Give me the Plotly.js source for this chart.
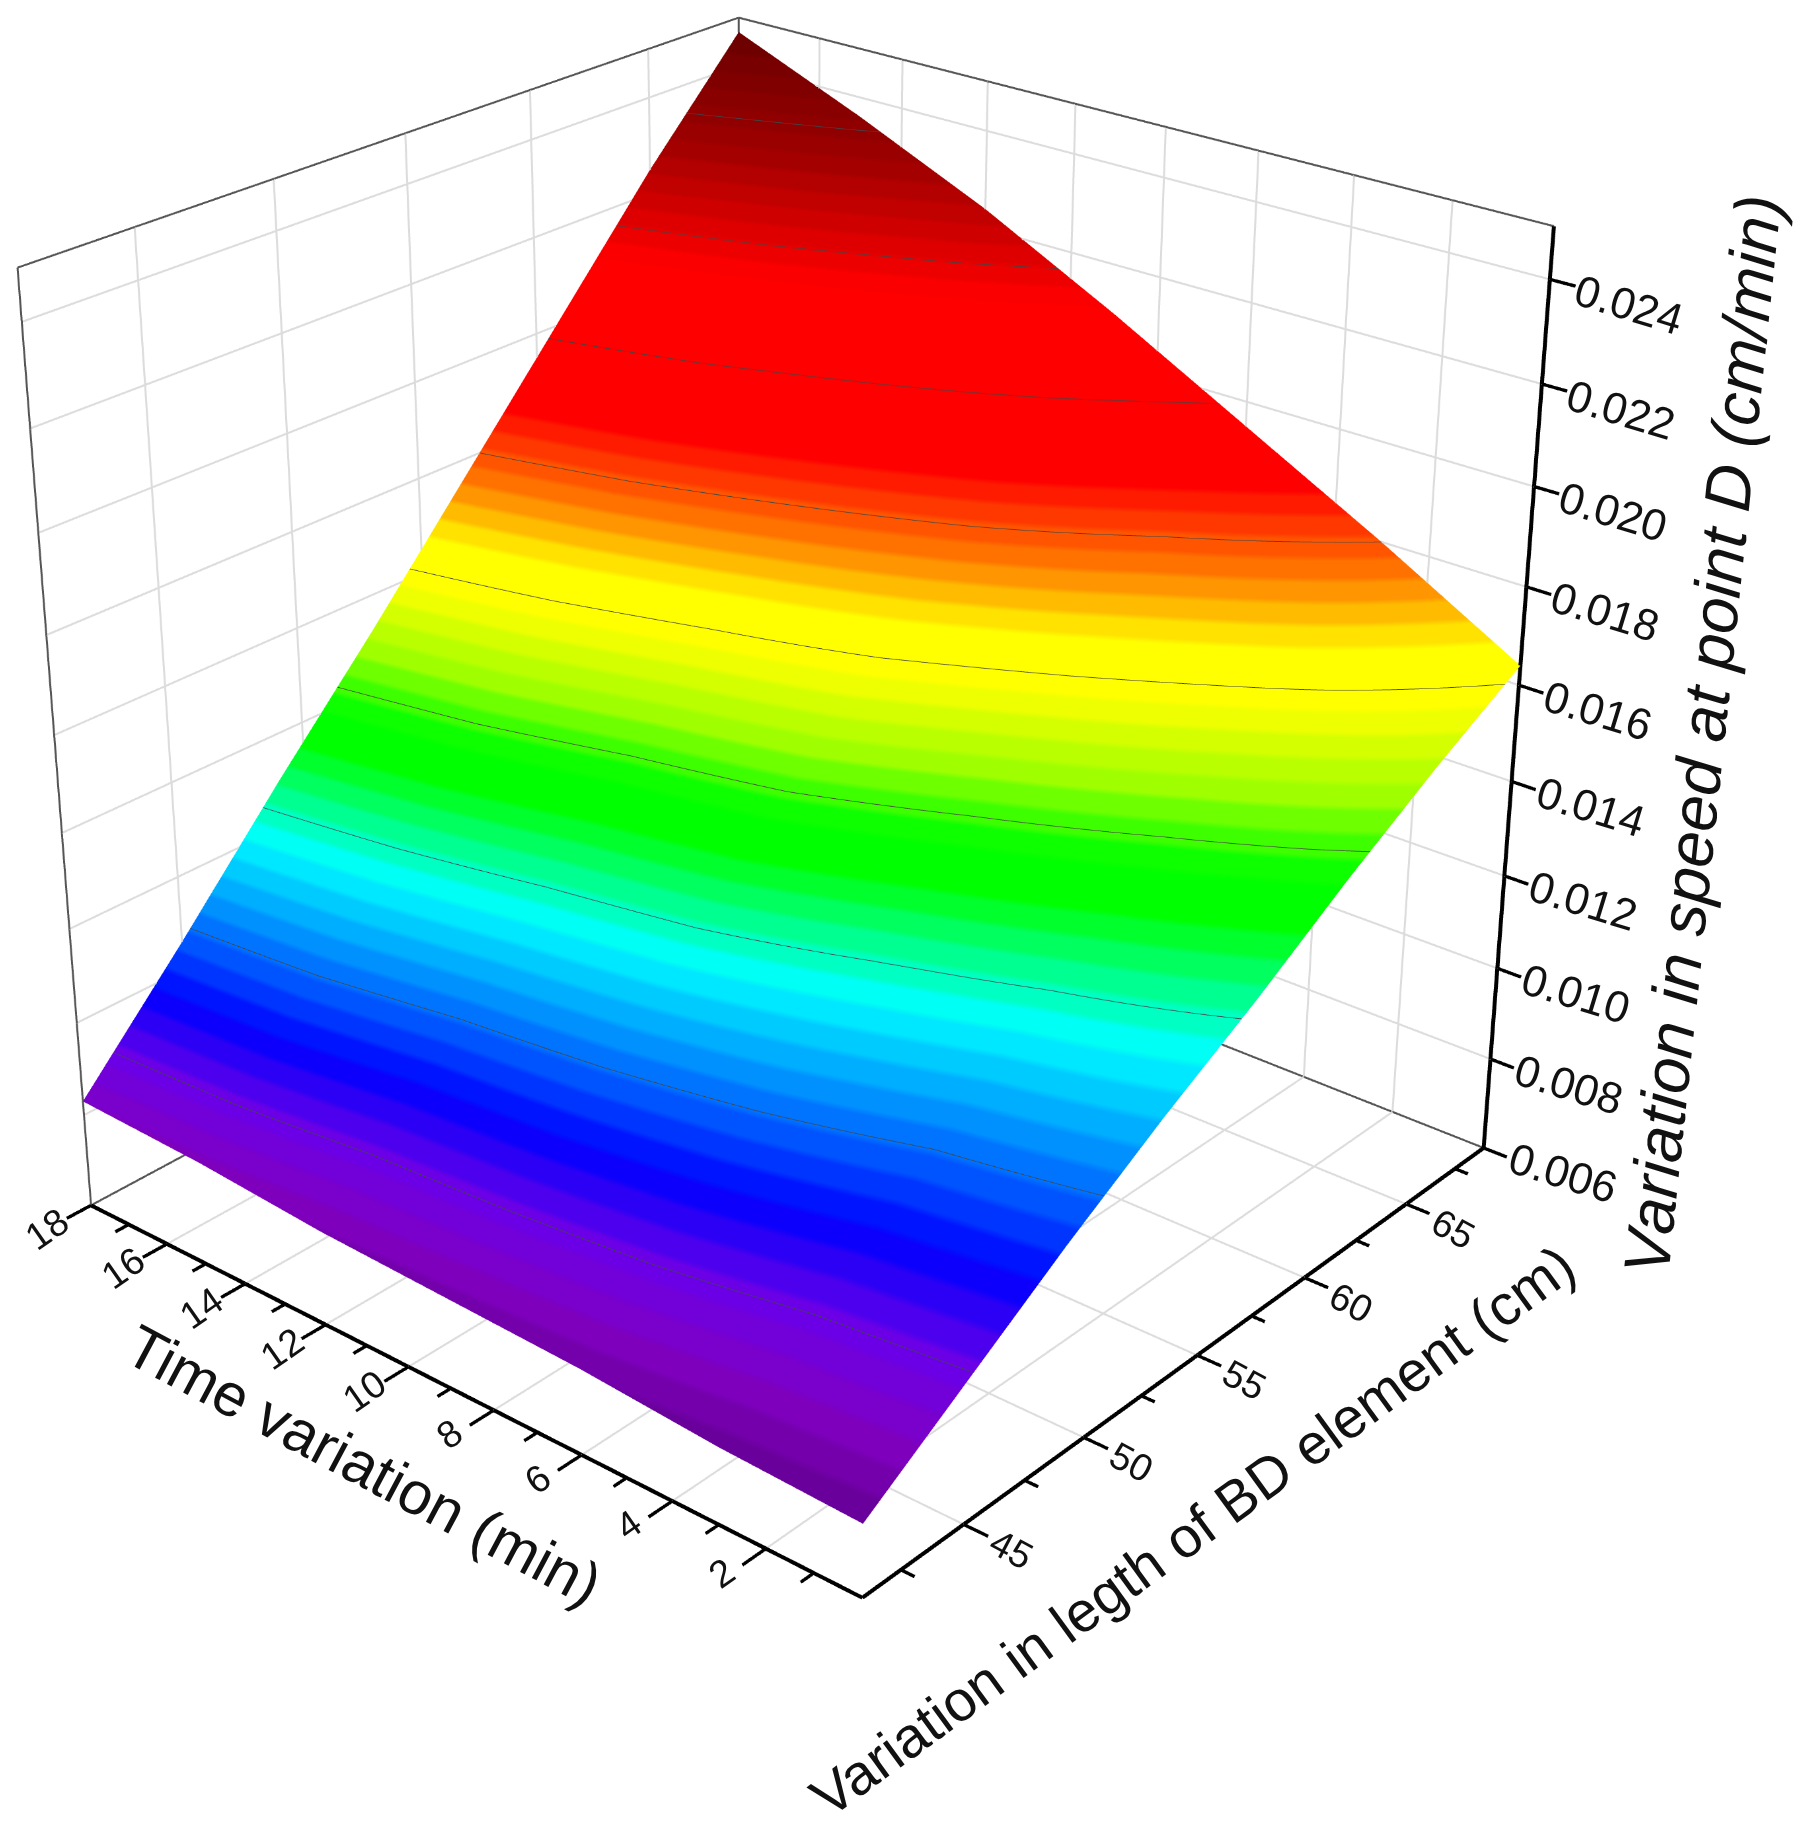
<!DOCTYPE html>
<html>
<head>
<meta charset="utf-8">
<script src="https://cdn.plot.ly/plotly-3.0.1.min.js"></script>
<style>html,body{margin:0;padding:0;background:#fff;overflow:hidden}
#marco{position:absolute;left:0;top:0;width:1803px;height:1822px;overflow:hidden}
#grafico{position:absolute}</style>
</head>
<body>
<div id="marco"><div id="grafico"></div></div>
<script>
// valores
const tiempo = [0, 3, 6, 9, 12, 15, 18];
const longitud = [41, 45, 49, 53, 57, 61, 65, 69];
const vel = [
  [.0075,.0089,.0103,.0116,.0128,.0141,.0153,.0164],
  [.0076,.0091,.0106,.0121,.0136,.0151,.0166,.0180],
  [.0078,.0095,.0112,.0128,.0145,.0162,.0178,.0195],
  [.0079,.0098,.0117,.0136,.0155,.0173,.0192,.0210],
  [.0080,.0100,.0121,.0141,.0162,.0183,.0204,.0224],
  [.0082,.0104,.0126,.0148,.0170,.0193,.0215,.0236],
  [.0083,.0106,.0130,.0153,.0177,.0201,.0225,.0247]
];
const ticksT = [2,4,6,8,10,12,14,16,18];
const menoresT = [1,3,5,7,9,11,13,15,17];
const ticksL = [45,50,55,60,65];
const menoresL = [42.5,47.5,52.5,57.5,62.5,67.5];
const ticksZ = [.006,.008,.010,.012,.014,.016,.018,.020,.022,.024];

// colores de la escala por valor de z
const anclasZ = [.0072,.0076,.0082,.0090,.0099,.0110,.0122,.0129,.0136,.0141,.0150,.0160,.0167,.0176,.0188,.0212,.0230,.0247];
const anclasCol = ["#500070","#6a009a","#8000c0","#6a00e8","#0000ff","#0080ff","#00ffff","#00ff80","#00ff00","#00ff00","#a0ff00","#ffff00","#ffff00","#ff8000","#ff0000","#ff0000","#a00000","#6b0000"];
const cMin = .0072, cMax = .0247, nBandas = 64;

const tMin = 0, tMax = 18, lMin = 41, lMax = 69, zMin = .006, zMax = .025;

// el lienzo es mas grande que la ventana para bajar la perspectiva
const ANCHO = 3786, ALTO = 3826, despX = -1098, despY = -1169;
const g = document.getElementById("grafico");
g.style.left = despX+"px"; g.style.top = despY+"px"; g.style.width = ANCHO+"px"; g.style.height = ALTO+"px";

function hexARgb(h){ return [1,3,5].map(i => parseInt(h.substr(i,2),16)); }
function colorEn(v){
  let i = 0;
  while (i < anclasZ.length-2 && v > anclasZ[i+1]) i++;
  const f = Math.min(1,Math.max(0,(v-anclasZ[i])/(anclasZ[i+1]-anclasZ[i])));
  const a = hexARgb(anclasCol[i]), b = hexARgb(anclasCol[i+1]);
  return "rgb("+a.map((c,k)=>Math.round(c+(b[k]-c)*f)).join(",")+")";
}
const escala = [];
for (let i=0;i<nBandas;i++){
  const c = colorEn(cMin+(cMax-cMin)*(i+.5)/nBandas);
  escala.push([i/nBandas,c]); escala.push([(i+1)/nBandas,c]);
}

// segmentos de lineas en coordenadas de datos
function segs(lista){
  const x=[],y=[],z=[];
  lista.forEach(s=>{ x.push(s[0][0],s[1][0],null); y.push(s[0][1],s[1][1],null); z.push(s[0][2],s[1][2],null); });
  return {x,y,z};
}
function linea(lista,color,ancho){
  return Object.assign({type:"scatter3d",mode:"lines",hoverinfo:"skip",showlegend:false,line:{color:color,width:ancho}},segs(lista));
}

const grid = [];
ticksT.forEach(t=>{ grid.push([[lMin,t,zMin],[lMax,t,zMin]]); grid.push([[lMax,t,zMin],[lMax,t,zMax]]); });
ticksL.forEach(l=>{ grid.push([[l,tMin,zMin],[l,tMax,zMin]]); grid.push([[l,tMax,zMin],[l,tMax,zMax]]); });
ticksZ.forEach(v=>{ grid.push([[lMin,tMax,v],[lMax,tMax,v]]); grid.push([[lMax,tMin,v],[lMax,tMax,v]]); });

const marco = [
  [[lMin,tMax,zMin],[lMin,tMax,zMax]], [[lMin,tMax,zMax],[lMax,tMax,zMax]],
  [[lMax,tMax,zMax],[lMax,tMin,zMax]], [[lMax,tMax,zMin],[lMax,tMax,zMax]],
  [[lMin,tMax,zMin],[lMax,tMax,zMin]], [[lMax,tMax,zMin],[lMax,tMin,zMin]]
];
const ejes = [
  [[lMin,tMin,zMin],[lMin,tMax,zMin]], [[lMin,tMin,zMin],[lMax,tMin,zMin]], [[lMax,tMin,zMin],[lMax,tMin,zMax]]
];
const marcas = [];
ticksT.forEach(t=>marcas.push([[lMin,t,zMin],[lMin-.9,t,zMin]]));
menoresT.forEach(t=>marcas.push([[lMin,t,zMin],[lMin-.5,t,zMin]]));
ticksL.forEach(l=>marcas.push([[l,tMin,zMin],[l,tMin-.5,zMin]]));
menoresL.forEach(l=>marcas.push([[l,tMin,zMin],[l,tMin-.28,zMin]]));
ticksZ.forEach(v=>marcas.push([[lMax,tMin,v],[lMax,tMin-.5,v]]));

const fuente = "Liberation Sans";
const notas = [];
const centrado = {showarrow:false,xanchor:"center",yanchor:"middle"};
ticksT.forEach(t=>notas.push(Object.assign({x:lMin,y:t,z:zMin,text:String(t),textangle:-35,xshift:-44,yshift:-24,font:{family:fuente,size:38,color:"#111"}},centrado)));
ticksL.forEach(l=>notas.push(Object.assign({x:l,y:tMin,z:zMin,text:String(l),textangle:28,xshift:47,yshift:-25,font:{family:fuente,size:38,color:"#111"}},centrado)));
ticksZ.forEach(v=>notas.push(Object.assign({x:lMax,y:tMin,z:v,text:v.toFixed(3),textangle:17,xshift:79,yshift:-25,font:{family:fuente,size:44,color:"#111"}},centrado)));

const sinEje = r => ({visible:false,range:r,showspikes:false});
const papelX = px => (px-despX)/ANCHO;
const papelY = py => 1-(py-despY)/ALTO;

Plotly.newPlot("grafico", [
  {
    type:"surface", x:longitud, y:tiempo, z:vel, showscale:false,
    colorscale:escala, cmin:cMin, cmax:cMax, hoverinfo:"skip",
    contours:{z:{show:true,start:.009,end:.0235,size:.0018,color:"#444",width:4}},
    lighting:{ambient:1,diffuse:0,specular:0,roughness:1,fresnel:0}
  },
  linea(grid,"#dcdcdc",3),
  linea(marco,"#555",3),
  linea(ejes,"#000",6),
  linea(marcas,"#000",5)
],{
  width:ANCHO,height:ALTO,margin:{l:0,r:0,t:0,b:0},paper_bgcolor:"#fff",showlegend:false,
  scene:{
    domain:{x:[0,1],y:[0,1]},
    camera:{projection:{type:"perspective"},eye:{x:-2.99,y:-2.54,z:1.92},center:{x:0,y:0,z:0},up:{x:0,y:0,z:1}},
    aspectmode:"manual",aspectratio:{x:1.02,y:1.025,z:.99},
    xaxis:sinEje([40,lMax+.1]), yaxis:sinEje([-.6,tMax+.1]), zaxis:sinEje([zMin-.0001,zMax+.0001]),
    annotations:notas
  },
  annotations:[
    Object.assign({xref:"paper",yref:"paper",x:papelX(364),y:papelY(1465),text:"Time variation (min)",textangle:28,font:{family:fuente,size:60,color:"#111"}},centrado),
    Object.assign({xref:"paper",yref:"paper",x:papelX(1192),y:papelY(1531),text:"Variation in legth of BD element (cm)",textangle:-36,font:{family:fuente,size:57,color:"#111"}},centrado),
    Object.assign({xref:"paper",yref:"paper",x:papelX(1702),y:papelY(735),text:"Variation in speed at point D (cm/min)",textangle:-84,font:{family:fuente,size:65,style:"italic",color:"#111"}},centrado)
  ]
},{displayModeBar:false});
</script>
</body>
</html>
